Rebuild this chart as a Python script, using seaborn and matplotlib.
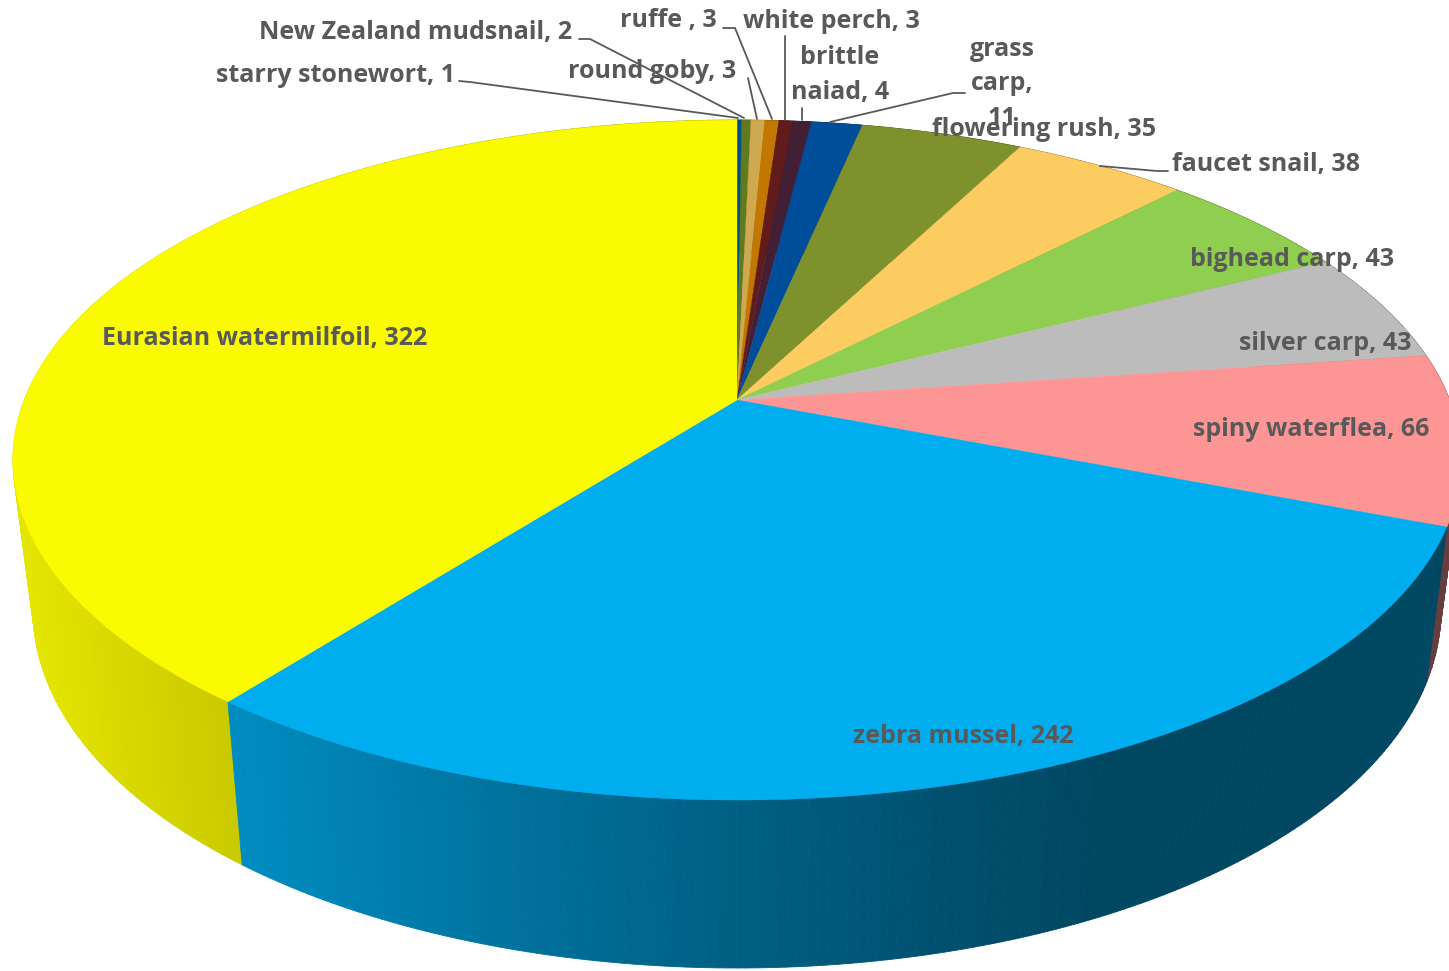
import numpy as np
import matplotlib
matplotlib.use('Agg')
import matplotlib.pyplot as plt
from matplotlib.collections import PolyCollection
import seaborn as sns

# --- Data (clockwise from 12 o'clock) ---
species = ['starry stonewort', 'New Zealand mudsnail', 'round goby', 'ruffe ', 'white perch',
           'brittle\nnaiad', 'grass\ncarp,\n', 'flowering rush', 'faucet snail', 'bighead carp',
           'silver carp', 'spiny waterflea', 'zebra mussel', 'Eurasian watermilfoil']
counts = [1, 2, 3, 3, 3, 4, 11, 35, 38, 43, 43, 66, 242, 322]
slice_colors = ['#004c8c', '#5f7a1f', '#cfa94f', '#c27700', '#621b1b', '#431f35', '#004e9a',
                '#7f912d', '#fdcc60', '#90ce4f', '#bcbcbc', '#fe9595', '#00aeef', '#fafa00']

sns.set_theme(style='white')
plt.rcParams['font.family'] = ['Open Sans', 'DejaVu Sans']
palette = sns.color_palette(slice_colors)

# --- Projection of the tilted disc onto the picture (pixels) ---
CX, CY = 737, 400
A, B, K = 712.7, 329.4, 0.1765


def top_xy(theta):
    X, Y = np.sin(theta), np.cos(theta)
    d = 1 + K * Y
    return CX + A * X / d, CY - B * Y / d


def low_xy(theta):
    x, y = top_xy(theta)
    return CX + 0.972 * (x - CX), CY + 1.05 * (y - CY) + 148


# rim gets darker to the right
def rim_shade(x):
    return np.interp(x, [13, 240, 600, 950, 1100], [0.92, 0.80, 0.61, 0.46, 0.41])


fig = plt.figure(figsize=(14.49, 9.71), dpi=100)
ax = fig.add_axes([0, 0, 1, 1])
ax.set_xlim(0, 1449)
ax.set_ylim(971, 0)
ax.axis('off')

edges = 2 * np.pi * np.concatenate([[0], np.cumsum(counts)]) / np.sum(counts)

# --- Rim ---
quads, quad_colors, quad_depth = [], [], []
for i, col in enumerate(palette):
    n = max(2, int((edges[i + 1] - edges[i]) / 0.012))
    t = np.linspace(edges[i], edges[i + 1], n + 1)
    tx, ty = top_xy(t)
    lx, ly = low_xy(t)
    for j in range(n):
        quads.append([(tx[j], ty[j]), (tx[j + 1], ty[j + 1]), (lx[j + 1], ly[j + 1]), (lx[j], ly[j])])
        s = rim_shade((tx[j] + tx[j + 1]) / 2)
        quad_colors.append(tuple(np.array(col) * s))
        quad_depth.append(np.cos((t[j] + t[j + 1]) / 2))
order = np.argsort(quad_depth)[::-1]
rim = PolyCollection([quads[o] for o in order], facecolors=[quad_colors[o] for o in order],
                     edgecolors=[quad_colors[o] for o in order], linewidths=0.6)
ax.add_collection(rim)

# --- Top face ---
for i, col in enumerate(palette):
    t = np.linspace(edges[i], edges[i + 1], max(4, int((edges[i + 1] - edges[i]) / 0.005)))
    x, y = top_xy(t)
    ax.fill(np.r_[CX, x], np.r_[CY, y], color=col, lw=0.3)

# --- Leader lines ---
leaders = [
    [(459, 81), (470, 82), (738, 118)],
    [(579, 39), (590, 39), (744, 118)],
    [(748, 78), (757, 119)],
    [(723, 28), (735, 28), (772, 119)],
    [(785, 36), (785, 120)],
    [(802, 108), (802, 120)],
    [(965, 93), (953, 93), (830, 122)],
    [(1168, 171), (1157, 171), (1100, 166)],
]
for pts in leaders:
    ax.plot(*zip(*pts), color='#595959', lw=1.3, solid_joinstyle='miter')

# --- Labels ---
label_pos = [
    (216, 76, 'left'), (259, 33, 'left'), (568, 71, 'left'), (620, 20, 'left'), (743, 22, 'left'),
    (840, 75, 'center'), (1002, 84, 'center'), (932, 130, 'left'), (1172, 164, 'left'),
    (1190, 260, 'left'), (1239, 344, 'left'), (1193, 430, 'left'), (853, 736, 'left'), (102, 338, 'left'),
]
for name, val, (x, y, ha) in zip(species, counts, label_pos):
    label = f'{name}{val}' if name.endswith('\n') else f'{name}, {val}'
    ax.text(x, y, label, ha=ha, va='center', multialignment='center', fontsize=18,
            fontweight='bold', color='#595959', linespacing=1.5)

fig.savefig('out.png', dpi=100)
